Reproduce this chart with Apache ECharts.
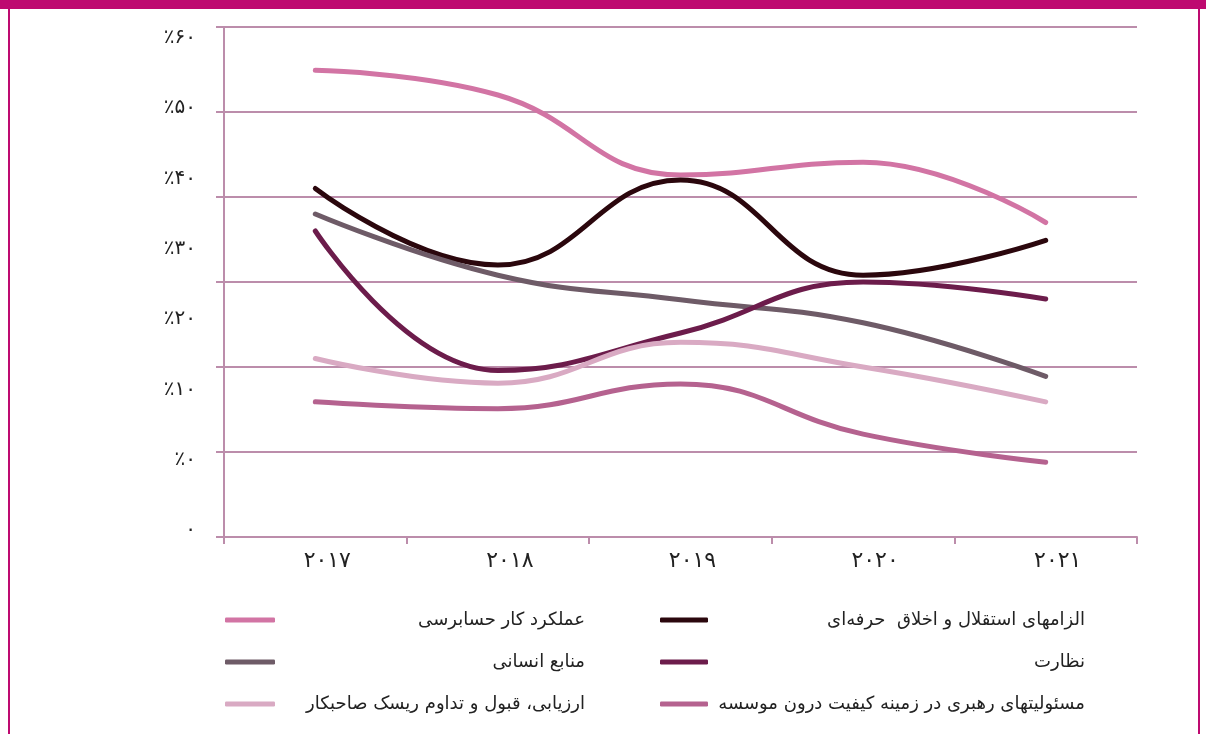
<!DOCTYPE html>
<html>
<head>
<meta charset="utf-8">
<script src="https://cdn.jsdelivr.net/npm/echarts@6/dist/echarts.min.js"></script>
<style>
  html, body { margin: 0; padding: 0; background: #fff; }
  #main { width: 1206px; height: 734px; }
</style>
</head>
<body>
<div id="main"></div>
<script>
// سال ها
var years = ['۲۰۱۷', '۲۰۱۸', '۲۰۱۹', '۲۰۲۰', '۲۰۲۱'];
// برچسب های محور عمودی (از پایین به بالا)
var yTickLabels = ['۰', '٪۰', '٪۱۰', '٪۲۰', '٪۳۰', '٪۴۰', '٪۵۰', '٪۶۰'];

var names = [
	'عملکرد کار حسابرسی',
	'الزامهای استقلال و اخلاق  حرفه‌ای',
	'منابع انسانی',
	'نظارت',
	'ارزیابی، قبول و تداوم ریسک صاحبکار',
	'مسئولیتهای رهبری در زمینه کیفیت درون موسسه'
];
var auditWork = [54.9, 52.0, 42.6, 44.1, 37.0];
var ethics = [41.0, 32.0, 42.0, 30.8, 34.9];
var humanRes = [38.0, 30.8, 27.9, 25.2, 18.9];
var monitoring = [36.0, 19.6, 24.0, 30.0, 28.0];
var clientRisk = [21.0, 18.1, 22.9, 20.0, 15.9];
var leadership = [15.9, 15.1, 18.0, 12.1, 8.8];

var colors = ['#d274a4', '#2b070d', '#6e5b67', '#6c1c4b', '#d9aac3', '#b5628f'];

var font = 'DejaVu Sans';
var gridColor = '#bc8dab';

function makeSeries(i, data) {
	return {
		name: names[i],
		type: 'line',
		smooth: 0.45,
		symbol: 'none',
		xAxisIndex: 0,
		yAxisIndex: 0,
		data: data,
		lineStyle: { width: 5, color: colors[i], cap: 'round' },
		itemStyle: { color: colors[i] }
	};
}

function legendText(w) {
	return {
		formatter: function (name) { return '{t|' + name + '}'; },
		textStyle: {
			rich: { t: { width: w, align: 'right', fontSize: 18, color: '#222', fontFamily: font } }
		}
	};
}

var myChart = echarts.init(document.getElementById('main'));
var leftLeg = legendText(305);
var rightLeg = legendText(372);
var option = {
	animation: false,
	color: colors,
	textStyle: { fontFamily: font },
	grid: [
		{ left: 224, right: 69, top: 27, bottom: 197 },
		{ left: 224, right: 69, top: 38, bottom: 204 }
	],
	xAxis: [
		{
			gridIndex: 0,
			type: 'category',
			data: years,
			boundaryGap: true,
			axisLine: { lineStyle: { color: gridColor, width: 2 } },
			axisTick: { show: true, length: 7, lineStyle: { color: gridColor, width: 2 } },
			axisLabel: { color: '#222', fontSize: 22, fontFamily: font, margin: 13, padding: [0, 0, 0, 24] }
		},
		{
			gridIndex: 1,
			type: 'category',
			data: years,
			show: false
		}
	],
	yAxis: [
		{
			gridIndex: 0,
			type: 'value',
			min: 0,
			max: 60,
			interval: 10,
			axisLine: { show: true, lineStyle: { color: gridColor, width: 2 } },
			axisTick: { show: true, length: 8, lineStyle: { color: gridColor, width: 2 } },
			axisLabel: { show: false },
			splitLine: { show: true, lineStyle: { color: gridColor, width: 2 } }
		},
		{
			// برچسب ها جدا از خطوط شبکه
			gridIndex: 1,
			type: 'value',
			min: 0,
			max: 7,
			interval: 1,
			axisLine: { show: false },
			axisTick: { show: false },
			splitLine: { show: false },
			axisLabel: {
				color: '#222',
				fontSize: 20,
				fontFamily: font,
				margin: 28,
				formatter: function (v) { return yTickLabels[v] || ''; }
			}
		}
	],
	legend: [
		{
			orient: 'vertical',
			left: 220,
			top: 606,
			itemWidth: 50,
			itemHeight: 5,
			itemGap: 24,
			icon: 'roundRect',
			data: [names[0], names[2], names[4]],
			formatter: leftLeg.formatter,
			textStyle: leftLeg.textStyle
		},
		{
			orient: 'vertical',
			left: 655,
			top: 606,
			itemWidth: 48,
			itemHeight: 5,
			itemGap: 24,
			icon: 'roundRect',
			data: [names[1], names[3], names[5]],
			formatter: rightLeg.formatter,
			textStyle: rightLeg.textStyle
		}
	],
	graphic: [
		{ type: 'rect', left: 0, top: 0, shape: { width: 1206, height: 9 }, style: { fill: '#be0a70' } },
		{ type: 'rect', left: 8, top: 0, shape: { width: 2, height: 734 }, style: { fill: '#be0a70' } },
		{ type: 'rect', left: 1198, top: 0, shape: { width: 2, height: 734 }, style: { fill: '#be0a70' } }
	],
	series: [
		makeSeries(0, auditWork),
		makeSeries(1, ethics),
		makeSeries(2, humanRes),
		makeSeries(3, monitoring),
		makeSeries(4, clientRisk),
		makeSeries(5, leadership)
	]
};
myChart.setOption(option);
</script>
</body>
</html>
